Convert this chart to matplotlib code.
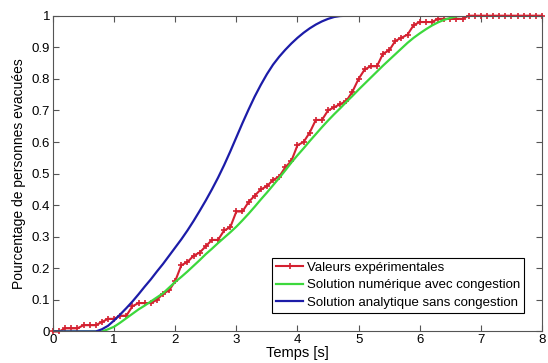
import numpy as np
import matplotlib
matplotlib.use("Agg")
import matplotlib.pyplot as plt

# temps de 0 a 8 s, pas de 0.1 s
t = np.round(np.arange(0, 81) * 0.1, 1)

y_exp = [0, 0, 0.01, 0.01, 0.01, 0.02, 0.02, 0.02, 0.03, 0.04,
         0.04, 0.05, 0.05, 0.08, 0.09, 0.09, 0.09, 0.10, 0.12, 0.13,
         0.16, 0.21, 0.22, 0.24, 0.25, 0.27, 0.29, 0.29, 0.32, 0.33,
         0.38, 0.38, 0.41, 0.43, 0.45, 0.46, 0.48, 0.49, 0.52, 0.54,
         0.59, 0.60, 0.63, 0.67, 0.67, 0.70, 0.71, 0.72, 0.73, 0.76,
         0.80, 0.83, 0.84, 0.84, 0.88, 0.89, 0.92, 0.93, 0.94, 0.97,
         0.98, 0.98, 0.98, 0.99, 0.99, 0.99, 0.99, 0.99, 1, 1,
         1, 1, 1, 1, 1, 1, 1, 1, 1, 1, 1]

# solution numerique avec congestion
y_num = [0, 0, 0, 0, 0, 0, 0, 0, 0, 0.007,
         0.015, 0.028, 0.042, 0.056, 0.070, 0.082, 0.095, 0.108, 0.121, 0.139,
         0.157, 0.173, 0.190, 0.208, 0.226, 0.245, 0.262, 0.280, 0.297, 0.314,
         0.332, 0.352, 0.373, 0.395, 0.418, 0.440, 0.463, 0.486, 0.510, 0.535,
         0.558, 0.580, 0.603, 0.625, 0.647, 0.668, 0.688, 0.707, 0.727, 0.746,
         0.766, 0.785, 0.804, 0.823, 0.842, 0.860, 0.878, 0.896, 0.914, 0.930,
         0.944, 0.957, 0.969, 0.979, 0.987, 0.993, 0.998, 1, 1, 1,
         1, 1, 1, 1, 1, 1, 1, 1, 1, 1, 1]

# solution analytique sans congestion
y_ana = [0, 0, 0, 0, 0, 0, 0, 0, 0.007, 0.018,
         0.035, 0.054, 0.074, 0.095, 0.118, 0.142, 0.165, 0.190, 0.214, 0.240,
         0.266, 0.292, 0.320, 0.350, 0.382, 0.415, 0.450, 0.487, 0.527, 0.570,
         0.615, 0.660, 0.703, 0.744, 0.781, 0.815, 0.845, 0.870, 0.892, 0.912,
         0.930, 0.946, 0.960, 0.972, 0.982, 0.990, 0.996, 0.999, 1, 1,
         1, 1, 1, 1, 1, 1, 1, 1, 1, 1,
         1, 1, 1, 1, 1, 1, 1, 1, 1, 1,
         1, 1, 1, 1, 1, 1, 1, 1, 1, 1, 1]

x_ticks = [0, 1, 2, 3, 4, 5, 6, 7, 8]
y_ticks = [0, 0.1, 0.2, 0.3, 0.4, 0.5, 0.6, 0.7, 0.8, 0.9, 1]
y_tick_labels = ["0", "0.1", "0.2", "0.3", "0.4", "0.5", "0.6", "0.7", "0.8", "0.9", "1"]

plt.rcParams['font.family'] = ['Liberation Sans', 'DejaVu Sans']

fig = plt.figure(figsize=(5.48, 3.63), dpi=100)
ax = fig.add_axes([0.0967, 0.0868, 0.8923, 0.8699])

ax.plot(t, y_exp, color='#d42030', lw=1.5, marker='+', ms=5, mew=1.2,
        clip_on=False, label='Valeurs expérimentales')
ax.plot(t, y_num, color='#3cd83c', lw=1.6, label='Solution numérique avec congestion')
ax.plot(t, y_ana, color='#1c1ca8', lw=1.6, label='Solution analytique sans congestion')

ax.set_xlim(0, 8)
ax.set_ylim(0, 1)
ax.set_xticks(x_ticks)
ax.set_yticks(y_ticks)
ax.set_yticklabels(y_tick_labels)
ax.tick_params(direction='in', top=True, right=True, length=4, width=0.8,
               labelsize=9.5, pad=2, color='#555555')
for s in ax.spines.values():
    s.set_color('#555555')
    s.set_linewidth(0.8)

ax.set_xlabel('Temps [s]', fontsize=10.5, labelpad=0)
ax.set_ylabel('Pourcentage de personnes evacuées', fontsize=10, labelpad=4)

leg = ax.legend(loc='lower right', bbox_to_anchor=(0.963, 0.06), fontsize=9.5,
                fancybox=False, framealpha=1, edgecolor='black',
                handlelength=2.0, handletextpad=0.3, borderpad=0.3,
                labelspacing=0.38, borderaxespad=0)
leg.get_frame().set_linewidth(0.8)

fig.savefig('out.png', dpi=100)
